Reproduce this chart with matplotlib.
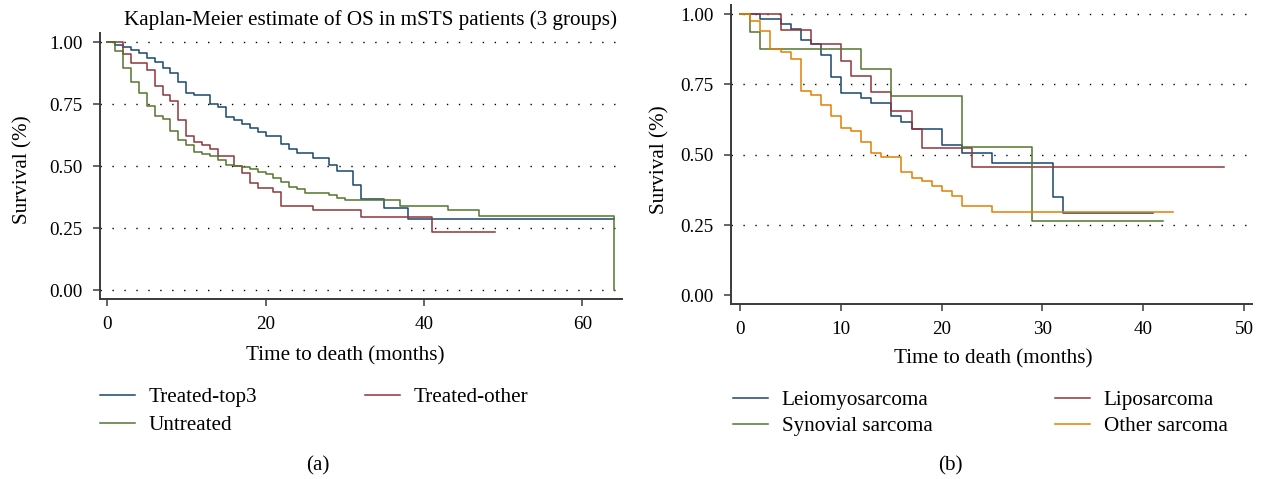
import matplotlib
matplotlib.use("Agg")
import matplotlib.pyplot as plt

plt.rcParams['font.family'] = ['Liberation Serif', 'DejaVu Serif']

# ---------------- data (a) ----------------
top3_t = [0, 1, 2, 3, 4, 5, 6, 7, 8, 9, 10, 11, 13, 14, 15, 16, 17, 18, 19, 20,
          22, 23, 24, 26, 28, 29, 31, 32, 35, 38, 64]
top3_s = [1.0, 0.989, 0.98, 0.97, 0.959, 0.936, 0.923, 0.898, 0.875, 0.84, 0.795,
          0.786, 0.75, 0.739, 0.699, 0.686, 0.672, 0.655, 0.639, 0.624, 0.592,
          0.57, 0.554, 0.532, 0.505, 0.48, 0.424, 0.368, 0.332, 0.286, 0.286]
other_t = [0, 2, 3, 5, 6, 7, 8, 9, 10, 11, 12, 13, 14, 16, 17, 18, 19, 21, 22,
           26, 32, 41, 49]
other_s = [1.0, 0.952, 0.917, 0.89, 0.823, 0.789, 0.762, 0.688, 0.622, 0.597,
           0.585, 0.572, 0.543, 0.503, 0.473, 0.431, 0.413, 0.396, 0.34, 0.322,
           0.294, 0.236, 0.236]
untr_t = [0, 1, 2, 3, 4, 5, 6, 7, 8, 9, 10, 11, 12, 13, 14, 15, 16, 17, 18, 19,
          20, 21, 22, 23, 24, 25, 28, 29, 30, 37, 43, 47, 64]
untr_s = [1.0, 0.964, 0.896, 0.84, 0.795, 0.744, 0.702, 0.69, 0.643, 0.607, 0.587,
          0.557, 0.55, 0.543, 0.524, 0.507, 0.503, 0.497, 0.489, 0.479, 0.469,
          0.452, 0.437, 0.416, 0.407, 0.391, 0.384, 0.372, 0.364, 0.339, 0.322,
          0.299, 0.0]

# ---------------- data (b) ----------------
leio_t = [0, 2, 4, 5, 6, 7, 8, 9, 10, 12, 13, 15, 16, 17, 20, 22, 25, 31, 32, 41]
leio_s = [1.0, 0.982, 0.964, 0.946, 0.907, 0.892, 0.854, 0.776, 0.719, 0.701,
          0.683, 0.639, 0.618, 0.593, 0.536, 0.507, 0.47, 0.35, 0.293, 0.293]
lipo_t = [0, 4, 7, 10, 11, 13, 15, 17, 18, 23, 48]
lipo_s = [1.0, 0.943, 0.892, 0.832, 0.779, 0.723, 0.657, 0.59, 0.525, 0.457, 0.457]
syn_t = [0, 1, 2, 12, 15, 22, 29, 42]
syn_s = [1.0, 0.937, 0.874, 0.806, 0.707, 0.529, 0.264, 0.264]
oth_t = [0, 1, 2, 3, 4, 5, 6, 7, 8, 9, 10, 11, 12, 13, 14, 16, 17, 18, 19, 20,
         21, 22, 25, 43]
oth_s = [1.0, 0.976, 0.939, 0.874, 0.865, 0.839, 0.726, 0.711, 0.675, 0.636,
         0.595, 0.586, 0.546, 0.505, 0.493, 0.439, 0.419, 0.407, 0.389, 0.371,
         0.354, 0.318, 0.296, 0.296]

labels_a = ["Treated-top3", "Treated-other", "Untreated"]
labels_b = ["Leiomyosarcoma", "Liposarcoma", "Synovial sarcoma", "Other sarcoma"]
yticks = [0.0, 0.25, 0.5, 0.75, 1.0]
xticks_a = [0, 20, 40, 60]
xticks_b = [0, 10, 20, 30, 40, 50]

NAVY = "#1a476f"
MAROON = "#90353b"
FOREST = "#55752f"
ORANGE = "#e37e00"

W, H = 1263, 479
fig = plt.figure(figsize=(W / 100, H / 100), dpi=100)

def px_axes(l, t, r, b):
    return fig.add_axes([l / W, 1 - b / H, (r - l) / W, (b - t) / H])

axA = px_axes(100, 33, 622, 299)
axB = px_axes(731, 5, 1252, 304)

TICK_FS = 13.8
LAB_FS = 15.2

def style(ax, xticks, xlim, ylim, grid_zero=True):
    ax.set_xlim(*xlim)
    ax.set_ylim(*ylim)
    ax.set_xticks(xticks)
    ax.set_yticks(yticks)
    ax.set_yticklabels([f"{v:.2f}" for v in yticks])
    for s in ["top", "right"]:
        ax.spines[s].set_visible(False)
    for s in ["left", "bottom"]:
        ax.spines[s].set_color("#3a3a3a")
        ax.spines[s].set_linewidth(1.4)
    ax.tick_params(axis="both", direction="out", length=5, width=1.1,
                   color="#3a3a3a", labelsize=TICK_FS)
    ax.tick_params(axis="y", pad=7.5)
    ax.tick_params(axis="x", pad=7)
    ax.yaxis.grid(True, color="black", linewidth=1.0, linestyle=(0, (1.0, 7.6)))
    ax.set_axisbelow(True)
    if not grid_zero:
        ax.get_ygridlines()[0].set_visible(False)

style(axA, xticks_a, (-0.9, 65.0), (-0.035, 1.038), grid_zero=True)
style(axB, xticks_b, (-0.92, 50.8), (-0.0305, 1.032), grid_zero=False)

LW = 1.1
hA1, = axA.step(top3_t, top3_s, where="post", color=NAVY, lw=LW)
hA2, = axA.step(other_t, other_s, where="post", color=MAROON, lw=LW)
hA3, = axA.step(untr_t, untr_s, where="post", color=FOREST, lw=LW)

hB1, = axB.step(leio_t, leio_s, where="post", color=NAVY, lw=LW)
hB2, = axB.step(lipo_t, lipo_s, where="post", color=MAROON, lw=LW)
hB3, = axB.step(syn_t, syn_s, where="post", color=FOREST, lw=LW)
hB4, = axB.step(oth_t, oth_s, where="post", color=ORANGE, lw=LW)

axA.text(0.518, 1.05, "Kaplan-Meier estimate of OS in mSTS patients (3 groups)",
         transform=axA.transAxes, ha="center", va="center", fontsize=LAB_FS)

axA.set_xlabel("Time to death (months)", fontsize=LAB_FS, va="center")
axA.xaxis.set_label_coords(0.469, -0.212)
axA.set_ylabel("Survival (%)", fontsize=LAB_FS, va="center")
axA.yaxis.set_label_coords(-0.147, 0.486)

axB.set_xlabel("Time to death (months)", fontsize=LAB_FS, va="center")
axB.xaxis.set_label_coords(0.503, -0.182)
axB.set_ylabel("Survival (%)", fontsize=LAB_FS, va="center")
axB.yaxis.set_label_coords(-0.1356, 0.482)

LEG_FS = 15.2

def col_legend(handles, labels, x_px, y_px, spacing):
    leg = fig.legend(handles, labels, loc="upper left",
                     bbox_to_anchor=(x_px / W, 1 - y_px / H),
                     frameon=False, borderpad=0, borderaxespad=0,
                     handlelength=1.68, handletextpad=0.62, labelspacing=spacing,
                     fontsize=LEG_FS)
    return leg

col_legend([hA1, hA3], [labels_a[0], labels_a[2]], 100, 387.5, 0.39)
col_legend([hA2], [labels_a[1]], 365, 387.5, 0.39)
col_legend([hB1, hB3], [labels_b[0], labels_b[2]], 733, 390.5, 0.3)
col_legend([hB2, hB4], [labels_b[1], labels_b[3]], 1055, 390.5, 0.3)

fig.text(318 / W, 1 - 466 / H, "(a)", ha="center", va="center", fontsize=LAB_FS)
fig.text(950 / W, 1 - 466 / H, "(b)", ha="center", va="center", fontsize=LAB_FS)

fig.savefig("out.png", dpi=100)
